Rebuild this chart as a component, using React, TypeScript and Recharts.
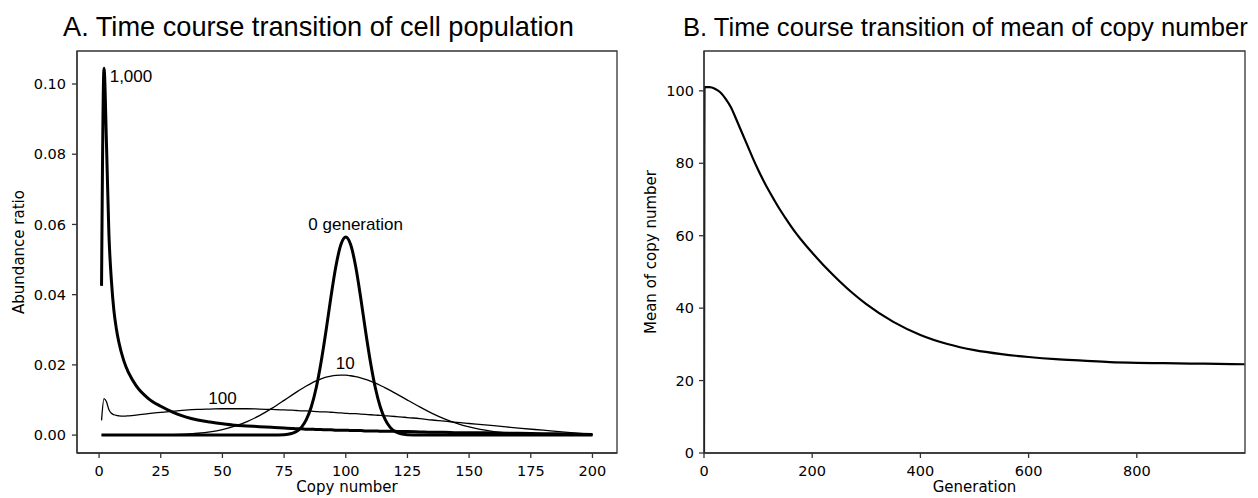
import React from 'react';
import { LineChart, Line, XAxis, YAxis, ReferenceDot, ReferenceArea } from 'recharts';

// ---------- Chart A data: abundance ratio vs copy number ----------
const copyNumbers = [1, 2, 3, 4, 5, 6, 7, 8, 10, 12, 15, 20, 25, 30, 35, 40, 45, 50, 55, 60, 65, 70, 75, 78, 80, 82, 84, 86, 88, 90, 92, 94, 96, 98, 100, 102, 104, 106, 108, 110, 112, 114, 116, 118, 120, 122, 125, 130, 135, 140, 145, 150, 160, 170, 180, 190, 200];

const gen0 = [0, 0, 0, 0, 0, 0, 0, 0, 0, 0, 0, 0, 0, 0, 0, 0, 0, 0, 0, 0, 0, 0, 0.0001, 0.00045, 0.001, 0.0022, 0.0044, 0.008, 0.0134, 0.0208, 0.0297, 0.0394, 0.0481, 0.0542, 0.0564, 0.0542, 0.0481, 0.0394, 0.0297, 0.0208, 0.0134, 0.008, 0.0044, 0.0022, 0.001, 0.00045, 0.0001, 0, 0, 0, 0, 0, 0, 0, 0, 0, 0];

const gen10 = [0, 0, 0, 0, 0, 0, 0, 0, 0, 0, 0.00001, 0.00003, 0.00007, 0.00014, 0.00028, 0.00053, 0.00094, 0.00158, 0.00253, 0.00385, 0.00555, 0.00761, 0.0099, 0.01131, 0.01223, 0.01313, 0.01397, 0.01474, 0.01542, 0.016, 0.01648, 0.01682, 0.01703, 0.0171, 0.01709, 0.0169, 0.01665, 0.01631, 0.01588, 0.01537, 0.01479, 0.01414, 0.01346, 0.01272, 0.01195, 0.01117, 0.00997, 0.00802, 0.00621, 0.00464, 0.00334, 0.00231, 0.001, 0.00037, 0.00012, 0.00003, 0];

const gen100 = [0.0042, 0.0104, 0.0095, 0.0072, 0.0062, 0.0058, 0.0056, 0.0055, 0.0054, 0.0055, 0.0057, 0.0061, 0.0065, 0.0068, 0.0071, 0.0073, 0.0074, 0.0075, 0.0075, 0.0075, 0.0074, 0.0073, 0.0072, 0.0071, 0.007, 0.0069, 0.0069, 0.0068, 0.0067, 0.0066, 0.0066, 0.0065, 0.0064, 0.0063, 0.0062, 0.0061, 0.0061, 0.006, 0.0059, 0.0058, 0.0057, 0.0056, 0.0055, 0.0054, 0.0053, 0.0052, 0.005, 0.0047, 0.0043, 0.004, 0.0036, 0.0033, 0.0027, 0.002, 0.0014, 0.0008, 0.0002];

const gen1000 = [0.0425, 0.1045, 0.083, 0.057, 0.044, 0.0355, 0.0303, 0.0265, 0.0212, 0.0177, 0.0141, 0.0104, 0.0082, 0.0065, 0.0052, 0.0043, 0.0037, 0.0032, 0.0028, 0.0026, 0.0024, 0.0022, 0.002, 0.0019, 0.0018, 0.0018, 0.0017, 0.0017, 0.0016, 0.0016, 0.0015, 0.0015, 0.0014, 0.0014, 0.0014, 0.0013, 0.0013, 0.0013, 0.0012, 0.0012, 0.0012, 0.0011, 0.0011, 0.0011, 0.0011, 0.001, 0.001, 0.0009, 0.0008, 0.0008, 0.0007, 0.0007, 0.0006, 0.0005, 0.0004, 0.0003, 0.0002];

const copyTicks = [0, 25, 50, 75, 100, 125, 150, 175, 200];
const ratioTicks = [0, 0.02, 0.04, 0.06, 0.08, 0.1];

const annotations = [
  { text: '1,000', x: 4.3, y: 0.102, anchor: 'start' },
  { text: '0 generation', x: 104, y: 0.06, anchor: 'middle' },
  { text: '10', x: 99.8, y: 0.0204, anchor: 'middle' },
  { text: '100', x: 50, y: 0.0105, anchor: 'middle' },
];

// ---------- Chart B data: mean copy number vs generation ----------
const generations = [0, 1, 10, 20, 30, 40, 50, 60, 70, 80, 90, 100, 110, 120, 130, 140, 150, 160, 170, 180, 190, 200, 225, 250, 275, 300, 350, 400, 450, 500, 550, 600, 650, 700, 750, 800, 850, 900, 950, 999];
const meanCopy = [0, 101, 101, 100.6, 99.6, 97.8, 95.4, 92, 88.5, 85, 81.5, 78.2, 75.2, 72.4, 69.8, 67.3, 65, 62.8, 60.7, 58.8, 57, 55.3, 51.2, 47.5, 44.1, 41.1, 36.2, 32.6, 30.1, 28.4, 27.3, 26.5, 25.9, 25.5, 25.1, 24.9, 24.8, 24.7, 24.6, 24.5];

const genTicks = [0, 200, 400, 600, 800];
const meanTicks = [0, 20, 40, 60, 80, 100];

const popData = copyNumbers.map((c, i) => ({ copy: c, g0: gen0[i], g10: gen10[i], g100: gen100[i], g1000: gen1000[i] }));
const meanData = generations.map((g, i) => ({ gen: g, mean: meanCopy[i] }));

const TICK_FONT = "'DejaVu Sans', sans-serif";
const ARIAL = "'Liberation Sans', Arial, sans-serif";
const SPINE = '#333';

const tickStyle = { fontSize: 14.5, fontFamily: TICK_FONT, fill: '#000' };
const spineLine = { stroke: SPINE, strokeWidth: 1.3 };

const XTitle = (props: any) => {
  const vb = props.viewBox || { x: 0, width: 0 };
  return (
    <text x={vb.x + vb.width / 2} y={props.baseline} textAnchor="middle" fontSize={15} fontFamily={TICK_FONT} fill="#000">
      {props.text}
    </text>
  );
};

const YTitle = (props: any) => {
  const vb = props.viewBox || { y: 51, height: 402 };
  const cy = vb.y + vb.height / 2;
  const px = props.px;
  return (
    <text x={px} y={cy} transform={`rotate(-90, ${px}, ${cy})`} textAnchor="middle" dominantBaseline="central" fontSize={15} fontFamily={TICK_FONT} fill="#000">
      {props.text}
    </text>
  );
};

const AnnoShape = (text: string, anchor: string) => (p: any) => (
  <text x={p.cx} y={p.cy} textAnchor={anchor as any} dominantBaseline="central" fontSize={17} fontFamily={ARIAL} fill="#000">
    {text}
  </text>
);

const COPY_DOMAIN: [number, number] = [-8.95, 209.95];
const RATIO_DOMAIN: [number, number] = [-0.0051, 0.1094];
const GEN_DOMAIN: [number, number] = [0, 1000];
const MEAN_DOMAIN: [number, number] = [0, 111];

export default function App() {
  return (
    <div style={{ position: 'absolute', left: 0, top: 0, width: 1258, height: 498, background: '#fff', overflow: 'hidden' }}>
      <div style={{ position: 'absolute', left: 0, top: 0 }}>
        <LineChart width={640} height={498} data={popData} margin={{ top: 51, right: 23, bottom: 0, left: 0 }}>
          <XAxis
            dataKey="copy"
            type="number"
            domain={COPY_DOMAIN}
            allowDataOverflow
            ticks={copyTicks}
            interval={0}
            tick={tickStyle}
            tickSize={5}
            tickMargin={8}
            tickLine={spineLine}
            axisLine={spineLine}
            height={45}
            label={<XTitle text="Copy number" baseline={492} />}
          />
          <YAxis
            type="number"
            domain={RATIO_DOMAIN}
            allowDataOverflow
            ticks={ratioTicks}
            interval={0}
            tickFormatter={(v: number) => v.toFixed(2)}
            tick={tickStyle}
            tickSize={5}
            tickMargin={6}
            tickLine={spineLine}
            axisLine={spineLine}
            width={77}
            label={<YTitle text="Abundance ratio" px={18.5} />}
          />
          <ReferenceArea x1={COPY_DOMAIN[0]} x2={COPY_DOMAIN[1]} y1={RATIO_DOMAIN[0]} y2={RATIO_DOMAIN[1]} fill="none" fillOpacity={0} stroke={SPINE} strokeWidth={1.3} strokeOpacity={1} ifOverflow="visible" />
          <Line dataKey="g100" type="monotone" stroke="#000" strokeWidth={1.3} dot={false} isAnimationActive={false} />
          <Line dataKey="g10" type="monotone" stroke="#000" strokeWidth={1.3} dot={false} isAnimationActive={false} />
          <Line dataKey="g0" type="monotone" stroke="#000" strokeWidth={3} dot={false} isAnimationActive={false} />
          <Line dataKey="g1000" type="monotone" stroke="#000" strokeWidth={3} dot={false} isAnimationActive={false} />
          {annotations.map((a) => (
            <ReferenceDot key={a.text} x={a.x} y={a.y} r={0} shape={AnnoShape(a.text, a.anchor)} />
          ))}
        </LineChart>
      </div>
      <div style={{ position: 'absolute', left: 640, top: 0 }}>
        <LineChart width={618} height={498} data={meanData} margin={{ top: 51, right: 13, bottom: 0, left: 0 }}>
          <XAxis
            dataKey="gen"
            type="number"
            domain={GEN_DOMAIN}
            allowDataOverflow
            ticks={genTicks}
            interval={0}
            tick={tickStyle}
            tickSize={5}
            tickMargin={8}
            tickLine={spineLine}
            axisLine={spineLine}
            height={45}
            label={<XTitle text="Generation" baseline={492} />}
          />
          <YAxis
            type="number"
            domain={MEAN_DOMAIN}
            allowDataOverflow
            ticks={meanTicks}
            interval={0}
            tick={tickStyle}
            tickSize={5}
            tickMargin={5}
            tickLine={spineLine}
            axisLine={spineLine}
            width={64}
            label={<YTitle text="Mean of copy number" px={11} />}
          />
          <ReferenceArea x1={GEN_DOMAIN[0]} x2={GEN_DOMAIN[1]} y1={MEAN_DOMAIN[0]} y2={MEAN_DOMAIN[1]} fill="none" fillOpacity={0} stroke={SPINE} strokeWidth={1.3} strokeOpacity={1} ifOverflow="visible" />
          <Line dataKey="mean" type="monotone" stroke="#000" strokeWidth={2.2} dot={false} isAnimationActive={false} />
        </LineChart>
      </div>
      <svg width={1258} height={498} style={{ position: 'absolute', left: 0, top: 0, pointerEvents: 'none' }}>
        <text x={63} y={36} fontSize={27.2} fontFamily={ARIAL} fill="#000">A. Time course transition of cell population</text>
        <text x={683} y={36} fontSize={25.6} fontFamily={ARIAL} fill="#000">B. Time course transition of mean of copy number</text>
      </svg>
    </div>
  );
}
